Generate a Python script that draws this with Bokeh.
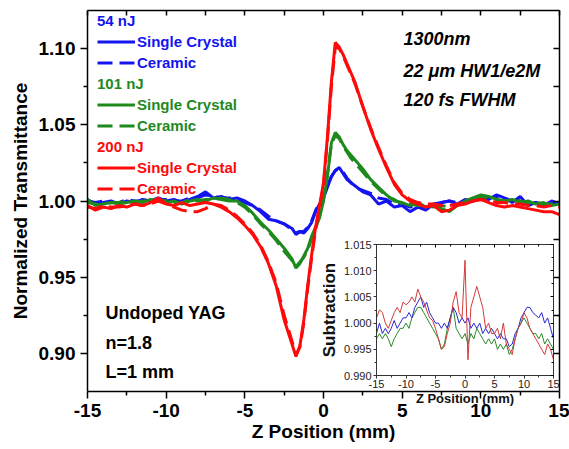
from bokeh.plotting import figure
from bokeh.models import (Range1d, FixedTicker, LinearAxis, Label, Legend,
                          LegendItem, GridBox, CustomLabelingPolicy)
from bokeh.core.properties import value
from bokeh.embed import file_html
from bokeh.resources import INLINE

# ---------------- data ----------------
Z = [-15, -14.5, -14, -13.5, -13, -12.5, -12, -11.5, -11, -10.5, -10, -9.5, -9,
     -8.5, -8, -7.5, -7, -6.5, -6, -5.5, -5, -4.5, -4, -3.5, -3, -2.5, -2,
     -1.75, -1.5, -1.25, -1, -0.75, -0.5, -0.25, 0, 0.25, 0.5, 0.75, 1, 1.25,
     1.5, 1.75,
     2, 2.5, 3, 3.5, 4, 4.5, 5, 5.5, 6, 6.5, 7, 7.5, 8, 8.5, 9, 9.5, 10, 10.5,
     11, 11.5, 12, 12.5, 13, 13.5, 14, 14.5, 15]

# 54 nJ
T54_SC = [1.001, 0.998, 0.999, 1.000, 0.998, 1.000, 0.999, 1.001, 1.000, 1.002,
          1.000, 1.001, 0.999, 1.001, 1.003, 1.006, 1.002, 1.003, 1.001, 1.002,
          1.000, 0.997, 0.993, 0.988, 0.987, 0.985, 0.982,
          0.978, 0.980, 0.979, 0.982, 0.986, 0.993, 0.998, 1.002, 1.009, 1.016,
          1.020, 1.022, 1.018, 1.014, 1.012,
          1.010, 1.006, 1.004, 0.998, 1.000, 0.996, 0.997, 0.993, 0.996, 0.994,
          0.998, 0.999, 1.000, 0.998, 1.001, 1.000, 1.002, 1.001, 1.004, 1.002,
          0.999, 1.003, 0.997, 0.999, 0.997, 1.000, 0.998]
T54_CE = [1.000, 0.999, 1.000, 0.999, 0.999, 1.001, 1.000, 1.000, 0.999, 1.001,
          1.001, 1.000, 1.000, 1.002, 1.002, 1.004, 1.003, 1.002, 1.002, 1.001,
          0.999, 0.997, 0.994, 0.990, 0.987, 0.985, 0.981,
          0.979, 0.980, 0.980, 0.983, 0.987, 0.994, 0.999, 1.004, 1.010, 1.016,
          1.020, 1.021, 1.019, 1.015, 1.012,
          1.009, 1.007, 1.005, 1.002, 1.001, 0.998, 0.998, 0.996, 0.997, 0.996,
          0.998, 0.999, 1.000, 0.999, 1.000, 1.001, 1.001, 1.002, 1.003, 1.002,
          1.000, 1.001, 0.998, 0.999, 0.998, 0.999, 0.999]
# 101 nJ
T101_SC = [1.001, 0.997, 0.998, 0.999, 0.998, 0.999, 1.000, 0.999, 1.001, 1.000,
           0.999, 1.000, 0.998, 1.000, 1.001, 1.000, 1.002, 1.001, 1.000, 1.000,
           0.997, 0.992, 0.986, 0.981, 0.975, 0.969, 0.962,
           0.956, 0.959, 0.964, 0.969, 0.977, 0.983, 0.989, 1.000, 1.016, 1.038,
           1.045, 1.042, 1.037, 1.033, 1.030,
           1.027, 1.021, 1.014, 1.009, 1.004, 1.000, 0.999, 0.997, 0.999, 0.996,
           0.998, 0.995, 0.993, 0.997, 1.000, 1.002, 1.004, 1.003, 1.001, 1.000,
           1.001, 0.999, 1.000, 0.998, 0.999, 0.997, 0.998]
T101_CE = [0.999, 0.998, 0.997, 0.999, 0.999, 1.000, 0.999, 1.000, 1.000, 1.001,
           1.000, 0.999, 0.999, 1.001, 1.000, 1.001, 1.001, 1.002, 1.001, 0.999,
           0.996, 0.991, 0.985, 0.980, 0.974, 0.967, 0.961,
           0.957, 0.960, 0.963, 0.968, 0.975, 0.982, 0.990, 1.001, 1.018, 1.037,
           1.043, 1.041, 1.036, 1.032, 1.028,
           1.025, 1.019, 1.013, 1.008, 1.003, 1.001, 0.998, 0.998, 0.997, 0.997,
           0.996, 0.997, 0.996, 0.998, 0.999, 1.001, 1.003, 1.002, 1.001, 1.000,
           1.000, 1.000, 0.999, 0.999, 0.998, 0.998, 1.000]
# 200 nJ
T200_SC = [0.997, 0.994, 0.996, 0.995, 0.997, 0.996, 0.998, 0.997, 0.999, 1.002,
           0.998, 0.997, 0.999, 0.997, 0.998, 0.999, 0.998, 0.996, 0.993, 0.989,
           0.984, 0.978, 0.970, 0.959, 0.944, 0.922, 0.906,
           0.898, 0.905, 0.922, 0.945, 0.965, 0.983, 0.997, 1.012, 1.042, 1.078,
           1.104, 1.101, 1.096, 1.090, 1.084,
           1.078, 1.062, 1.047, 1.034, 1.022, 1.011, 1.004, 1.000, 0.998, 0.996,
           0.997, 0.993, 0.994, 0.997, 0.998, 1.000, 1.001, 0.999, 0.997, 0.996,
           0.997, 0.996, 0.995, 0.994, 0.993, 0.993, 0.991]
T200_CE = [0.996, 0.995, 0.997, 0.996, 0.996, 0.997, 0.998, 0.997, 0.998, 1.000,
           0.998, 0.996, 0.994, 0.993, 0.993, 0.995, 0.998, 0.997, 0.994, 0.990,
           0.985, 0.979, 0.971, 0.960, 0.946, 0.925, 0.908,
           0.899, 0.904, 0.920, 0.943, 0.963, 0.981, 0.996, 1.010, 1.040, 1.075,
           1.101, 1.100, 1.095, 1.089, 1.083,
           1.077, 1.062, 1.048, 1.035, 1.023, 1.012, 1.005, 1.001, 0.999, 0.998,
           0.998, 0.997, 0.997, 0.998, 0.999, 1.000, 1.001, 1.000, 0.999, 0.999,
           0.998, 0.998, 0.997, 0.997, 0.996, 0.997, 0.996]

# inset: subtraction
ZS = [-15, -14.5, -14, -13.5, -13, -12.5, -12, -11.5, -11, -10.5,
      -10, -9.5, -9, -8.5, -8, -7.5, -7, -6.5, -6, -5.5,
      -5, -4.5, -4, -3.5, -3, -2.5, -2, -1.5, -1, -0.5,
      0, 0.5, 1, 1.5, 2, 2.5, 3, 3.5, 4, 4.5,
      5, 5.5, 6, 6.5, 7, 7.5, 8, 8.5, 9, 9.5,
      10, 10.5, 11, 11.5, 12, 12.5, 13, 13.5, 14, 14.5, 15]
SUB_GREEN = [0.997, 0.998, 0.997, 0.998, 0.997, 0.9955, 0.997, 0.998, 0.999, 0.999,
             1.000, 0.999, 1.001, 1.002, 1.003, 1.003, 1.002, 1.001, 1.000, 0.999,
             0.998, 0.997, 0.995, 0.996, 0.999, 1.001, 1.003, 0.999, 0.998, 0.997,
             0.998, 0.996, 0.998, 0.997, 0.999, 0.998, 0.997, 0.996, 0.997, 0.996,
             0.997, 0.995, 0.996, 0.995, 0.996, 0.994, 0.995, 0.997, 0.999, 1.000,
             1.001, 1.000, 0.999, 0.998, 0.998, 0.997, 0.998, 0.996, 0.997, 0.996,
             0.995]
SUB_BLUE = [0.998, 1.000, 0.998, 0.999, 0.998, 0.999, 1.0005, 0.999, 1.000, 1.001,
            1.001, 1.002, 1.001, 1.003, 1.004, 1.005, 1.003, 1.004, 1.002, 1.001,
            1.000, 1.000, 0.999, 1.000, 0.999, 1.001, 1.003, 1.002, 1.000, 1.001,
            1.000, 1.001, 0.999, 1.000, 0.999, 1.000, 0.998, 0.999, 0.998, 0.999,
            0.998, 0.997, 0.998, 0.997, 0.997, 0.9955, 0.996, 0.998, 0.999, 1.001,
            1.002, 1.003, 1.003, 1.002, 1.0015, 1.001, 1.002, 1.000, 1.001, 0.999,
            0.997]
SUB_RED = [1.001, 1.0025, 1.002, 1.000, 0.999, 1.0005, 1.002, 1.003, 1.002, 1.004,
           1.0035, 1.004, 1.005, 1.004, 1.0065, 1.005, 1.004, 1.0025, 1.001, 1.0005,
           0.999, 0.997, 0.995, 0.9955, 0.998, 1.000, 1.004, 1.006, 1.002, 1.001,
           1.012, 0.993, 1.003, 1.005, 1.007, 1.005, 1.003, 0.999, 1.000, 0.998,
           0.998, 0.999, 0.997, 1.000, 0.996, 0.995, 0.994, 0.997, 0.999, 1.000,
           1.002, 1.001, 0.999, 0.998, 0.997, 0.996, 0.995, 0.994, 0.996, 0.995,
           0.993]

XTICKS = [-15, -10, -5, 0, 5, 10, 15]
XLABELS = ["-15", "-10", "-5", "0", "5", "10", "15"]
XMINOR = [-12.5, -7.5, -2.5, 2.5, 7.5, 12.5]
YTICKS = [0.90, 0.95, 1.00, 1.05, 1.10]
YLABELS = ["0.90", "0.95", "1.00", "1.05", "1.10"]
YMINOR = [0.925, 0.975, 1.025, 1.075]
SYTICKS = [0.990, 0.995, 1.000, 1.005, 1.010, 1.015]
SYLABELS = ["0.990", "0.995", "1.000", "1.005", "1.010", "1.015"]
SYMINOR = [0.9925, 0.9975, 1.0025, 1.0075, 1.0125]

BLUE = "#1414f0"
GREEN = "#1e8a1e"
RED = "#ff0a0a"
FONT = "Liberation Sans"

NO_LABELS = "for (const i of indices) { indices.unset(i) }\nreturn indices"

# ---------------- main figure ----------------
p = figure(width=569, height=449, x_range=Range1d(-15, 15),
           y_range=Range1d(0.875, 1.125), output_backend="svg",
           toolbar_location=None, min_border_left=87, min_border_right=10,
           min_border_top=10, min_border_bottom=58)
p.xgrid.visible = False
p.ygrid.visible = False
p.outline_line_color = None
p.background_fill_color = "white"
p.border_fill_color = "white"
p.align = "start"
p.width_policy = "fixed"
p.height_policy = "fixed"


def style(ax, ticks, labels, minor, size="19px"):
    ax.ticker = FixedTicker(ticks=ticks, minor_ticks=minor)
    ax.major_label_overrides = dict(zip(ticks, labels))
    ax.major_label_text_font = FONT
    ax.major_label_text_font_style = "bold"
    ax.major_label_text_font_size = size
    ax.major_label_text_color = "black"
    ax.axis_label_text_font = FONT
    ax.axis_label_text_font_style = "bold"
    ax.axis_label_text_color = "black"
    ax.axis_line_color = "black"
    ax.major_tick_line_color = "black"
    ax.minor_tick_line_color = "black"


xa = p.xaxis[0]
style(xa, XTICKS, XLABELS, XMINOR)
xa.axis_label = "Z Position (mm)"
xa.axis_label_text_font_size = "19px"
xa.axis_line_width = 1.5
xa.major_tick_line_width = 1.5
xa.minor_tick_line_width = 1.5
xa.major_tick_out = 7
xa.major_tick_in = 0
xa.minor_tick_out = 4
xa.minor_tick_in = 0
xa.major_label_standoff = 5
xa.axis_label_standoff = 1

ya = p.yaxis[0]
style(ya, YTICKS, YLABELS, YMINOR)
ya.axis_label = "Normalized Transmittance"
ya.axis_label_text_font_size = "19px"
ya.axis_line_width = 1.5
ya.major_tick_line_width = 1.5
ya.minor_tick_line_width = 1.5
ya.major_tick_out = 7
ya.major_tick_in = 0
ya.minor_tick_out = 4
ya.minor_tick_in = 0
ya.major_label_standoff = 5
ya.axis_label_standoff = 5

top = LinearAxis(ticker=FixedTicker(ticks=XTICKS, minor_ticks=XMINOR),
                 major_tick_in=5, major_tick_out=0, minor_tick_in=5,
                 minor_tick_out=0, major_label_text_font_size="0px",
                 major_label_standoff=0, axis_line_width=1.5,
                 major_tick_line_width=1.5, minor_tick_line_width=1.5,
                 major_label_policy=CustomLabelingPolicy(code=NO_LABELS))
right = LinearAxis(ticker=FixedTicker(ticks=YTICKS, minor_ticks=YMINOR),
                   major_tick_in=6, major_tick_out=0, minor_tick_in=6,
                   minor_tick_out=0, major_label_text_font_size="0px",
                   major_label_standoff=0, axis_line_width=1.5,
                   major_tick_line_width=1.5, minor_tick_line_width=1.5,
                   major_label_policy=CustomLabelingPolicy(code=NO_LABELS))
p.add_layout(top, "above")
p.add_layout(right, "right")

DASH = "15 7"
r1 = p.line(Z, T54_SC, line_color=BLUE, line_width=3)
r2 = p.line(Z, T54_CE, line_color=BLUE, line_width=3, line_dash=DASH)
r3 = p.line(Z, T101_SC, line_color=GREEN, line_width=3)
r4 = p.line(Z, T101_CE, line_color=GREEN, line_width=3, line_dash=DASH)
r5 = p.line(Z, T200_SC, line_color=RED, line_width=3)
r6 = p.line(Z, T200_CE, line_color=RED, line_width=3, line_dash=DASH)

for title, col, rs, ypos in [("54 nJ", BLUE, (r1, r2), 318),
                             ("101 nJ", GREEN, (r3, r4), 255),
                             ("200 nJ", RED, (r5, r6), 192)]:
    leg = Legend(items=[LegendItem(label=value("Single Crystal"), renderers=[rs[0]]),
                        LegendItem(label=value("Ceramic"), renderers=[rs[1]])],
                 title=title, location=(10, ypos))
    leg.border_line_color = None
    leg.background_fill_alpha = 0
    leg.padding = 0
    leg.margin = 0
    leg.spacing = 0
    leg.glyph_width = 38
    leg.glyph_height = 21
    leg.label_height = 21
    leg.label_standoff = 2
    leg.label_text_font = FONT
    leg.label_text_font_style = "bold"
    leg.label_text_font_size = "15px"
    leg.label_text_color = col
    leg.title_text_font = FONT
    leg.title_text_font_style = "bold"
    leg.title_text_font_size = "15px"
    leg.title_text_color = col
    leg.title_standoff = 2
    p.add_layout(leg)

for txt, yy in [("1300nm", 1.1066), ("22 \u03bcm HW1/e2M", 1.0856),
                ("120 fs FWHM", 1.0666)]:
    p.add_layout(Label(x=5.08, y=yy, text=txt, text_font=FONT,
                       text_font_style="bold italic", text_font_size="18px",
                       text_baseline="middle", text_align="left",
                       text_color="black"))
for txt, yy in [("Undoped YAG", 0.9262), ("n=1.8", 0.9065),
                ("L=1 mm", 0.8875)]:
    p.add_layout(Label(x=-13.86, y=yy, text=txt, text_font=FONT,
                       text_font_style="bold", text_font_size="18px",
                       text_baseline="middle", text_align="left",
                       text_color="black"))

# ---------------- inset ----------------
q = figure(width=245, height=172, x_range=Range1d(-15, 15),
           y_range=Range1d(0.990, 1.015), output_backend="svg",
           toolbar_location=None, min_border_left=56, min_border_right=8,
           min_border_top=8, min_border_bottom=32)
q.xgrid.visible = False
q.ygrid.visible = False
q.border_fill_color = None
q.border_fill_alpha = 0
q.background_fill_color = "white"
q.outline_line_color = "#333333"
q.align = "start"
q.width_policy = "fixed"
q.height_policy = "fixed"


def istyle(ax, ticks, labels, minor):
    ax.ticker = FixedTicker(ticks=ticks, minor_ticks=minor)
    ax.major_label_overrides = dict(zip(ticks, labels))
    ax.major_label_text_font = FONT
    ax.major_label_text_font_size = "11px"
    ax.major_label_text_color = "#222222"
    ax.axis_label_text_font = FONT
    ax.axis_label_text_font_style = "bold"
    ax.axis_label_text_color = "#111111"
    ax.axis_line_color = "#333333"
    ax.major_tick_line_color = "#333333"
    ax.minor_tick_line_color = "#333333"


qx = q.xaxis[0]
istyle(qx, XTICKS, XLABELS, XMINOR)
qx.axis_label = "Z Position (mm)"
qx.axis_label_text_font_size = "13px"
qx.major_tick_out = 3
qx.major_tick_in = 0
qx.minor_tick_out = 2
qx.minor_tick_in = 0
qx.major_label_standoff = 1
qx.axis_label_standoff = 0

qy = q.yaxis[0]
istyle(qy, SYTICKS, SYLABELS, SYMINOR)
qy.axis_label = "Subtraction"
qy.axis_label_text_font_size = "17px"
qy.major_tick_out = 3
qy.major_tick_in = 0
qy.minor_tick_out = 2
qy.minor_tick_in = 0
qy.major_label_standoff = 2
qy.axis_label_standoff = 2

qtop = LinearAxis(ticker=FixedTicker(ticks=XTICKS, minor_ticks=XMINOR),
                  major_tick_in=3, major_tick_out=0, minor_tick_in=2,
                  minor_tick_out=0, major_label_text_font_size="0px",
                  major_label_standoff=0, axis_line_color="#333333",
                  major_label_policy=CustomLabelingPolicy(code=NO_LABELS))
qright = LinearAxis(ticker=FixedTicker(ticks=SYTICKS, minor_ticks=SYMINOR),
                    major_tick_in=3, major_tick_out=0, minor_tick_in=2,
                    minor_tick_out=0, major_label_text_font_size="0px",
                    major_label_standoff=0, axis_line_color="#333333",
                    major_label_policy=CustomLabelingPolicy(code=NO_LABELS))
q.add_layout(qtop, "above")
q.add_layout(qright, "right")

q.line(ZS, SUB_GREEN, line_color="#2a8a2a", line_width=1)
q.line(ZS, SUB_BLUE, line_color="#2828d0", line_width=1)
q.line(ZS, SUB_RED, line_color="#d23a3a", line_width=1)

grid = GridBox(children=[(p, 0, 0, 3, 3), (q, 1, 1)],
               rows=["236px", "172px", "41px"],
               cols=["316px", "245px", "8px"], spacing=0,
               width=569, height=449, sizing_mode="fixed")

open("out.html", "w").write(file_html(grid, INLINE))
